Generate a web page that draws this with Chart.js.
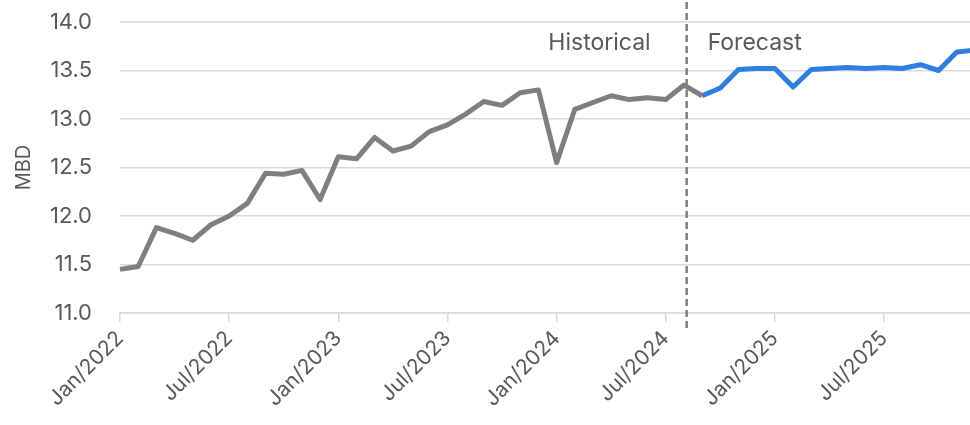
<!DOCTYPE html>
<html>
<head>
<meta charset="utf-8">
<script src="https://cdn.jsdelivr.net/npm/chart.js@4.4.1/dist/chart.umd.min.js"></script>
<style>
    html, body { margin: 0; padding: 0; background: #fff; overflow: hidden; }
    #wrap { width: 980px; height: 425px; position: relative; }
</style>
</head>
<body>
<div id="wrap"><canvas id="chart"></canvas></div>
<script>
// monthly labels, Jan/2022 .. Dec/2025
const months = ["Jan", "Feb", "Mar", "Apr", "May", "Jun", "Jul", "Aug", "Sep", "Oct", "Nov", "Dec"]
const years = [2022, 2023, 2024, 2025]
const labels = years.flatMap(y => months.map(m => `${m}/${y}`))

// historical, Jan/2022 .. Sep/2024 (MBD)
const historical = [
    11.45, 11.48, 11.88, 11.82, 11.75, 11.91, 12.00, 12.13, 12.44, 12.43, 12.47, 12.17,
    12.61, 12.59, 12.81, 12.67, 12.72, 12.87, 12.94, 13.05, 13.18, 13.14, 13.27, 13.30,
    12.55, 13.10, 13.17, 13.24, 13.20, 13.22, 13.20, 13.35, 13.24
]

// forecast, Sep/2024 .. Dec/2025 (MBD)
const forecast = [
    13.24, 13.32, 13.51, 13.52, 13.52, 13.33, 13.51, 13.52,
    13.53, 13.52, 13.53, 13.52, 13.56, 13.50, 13.69, 13.71
]
const forecastStart = labels.indexOf("Sep/2024")

// position of the divider, in months from Jan/2022
const dividerAt = 31.15

const textColor = "#595959"
const gridColor = "#d9d9d9"
const fontFamily = "Inter, 'Noto Sans', sans-serif"

/**
 * Draws the dashed divider with its two captions
 */
const dividerPlugin = {
    id: "divider",
    afterDatasetsDraw(chart) {
        const { ctx, scales: { x } } = chart
        const px = x.getPixelForValue(dividerAt)
        ctx.save()
        ctx.strokeStyle = "#7f7f7f"
        ctx.lineWidth = 2.5
        ctx.setLineDash([7, 4])
        ctx.beginPath()
        ctx.moveTo(px, 2)
        ctx.lineTo(px, 329)
        ctx.stroke()
        ctx.fillStyle = textColor
        ctx.font = `23px ${fontFamily}`
        ctx.textBaseline = "alphabetic"
        ctx.textAlign = "right"
        ctx.fillText("Historical", px - 36, 50)
        ctx.textAlign = "left"
        ctx.fillText("Forecast", px + 21, 50)
        ctx.restore()
    }
}

function main() {
    const histData = labels.map((_, i) => i < historical.length ? historical[i] : null)
    const foreData = labels.map((_, i) => {
        const j = i - forecastStart
        return j >= 0 && j < forecast.length ? forecast[j] : null
    })

    new Chart(document.getElementById("chart"), {
        type: "line",
        data: {
            labels,
            datasets: [
                { data: histData, borderColor: "#7f7f7f", borderWidth: 5, pointRadius: 0, tension: 0, borderJoinStyle: "round" },
                { data: foreData, borderColor: "#2e7fe0", borderWidth: 5, pointRadius: 0, tension: 0, borderJoinStyle: "round" }
            ]
        },
        options: {
            responsive: true,
            maintainAspectRatio: false,
            animation: false,
            layout: { padding: { top: 22, right: 5, left: 0, bottom: 0 } },
            plugins: { legend: { display: false }, tooltip: { enabled: false } },
            scales: {
                x: {
                    type: "category",
                    offset: false,
                    afterFit: scale => {
                        scale.height = 112
                        scale.paddingLeft = 0
                        scale.paddingRight = 0
                    },
                    border: { display: true, color: gridColor, width: 1.5 },
                    grid: { drawOnChartArea: false, drawTicks: true, tickLength: 9, color: gridColor, lineWidth: 1.5 },
                    ticks: {
                        autoSkip: false,
                        maxRotation: 45,
                        minRotation: 45,
                        padding: 4,
                        color: textColor,
                        font: { family: fontFamily, size: 21 },
                        callback: (v, i) => i % 6 === 0 ? labels[i] : null
                    }
                },
                y: {
                    min: 11,
                    max: 14,
                    afterFit: scale => {
                        scale.width = 120
                        scale.paddingTop = 0
                        scale.paddingBottom = 0
                    },
                    border: { display: false },
                    grid: { drawTicks: false, color: gridColor, lineWidth: 1.5 },
                    ticks: {
                        stepSize: 0.5,
                        padding: 28,
                        color: textColor,
                        font: { family: fontFamily, size: 22 },
                        callback: v => v.toFixed(1)
                    },
                    title: {
                        display: true,
                        text: "MBD",
                        color: textColor,
                        font: { family: fontFamily, size: 20 },
                        padding: { top: 12, bottom: 0 }
                    }
                }
            }
        },
        plugins: [dividerPlugin]
    })
}

window.onload = main
</script>
</body>
</html>
